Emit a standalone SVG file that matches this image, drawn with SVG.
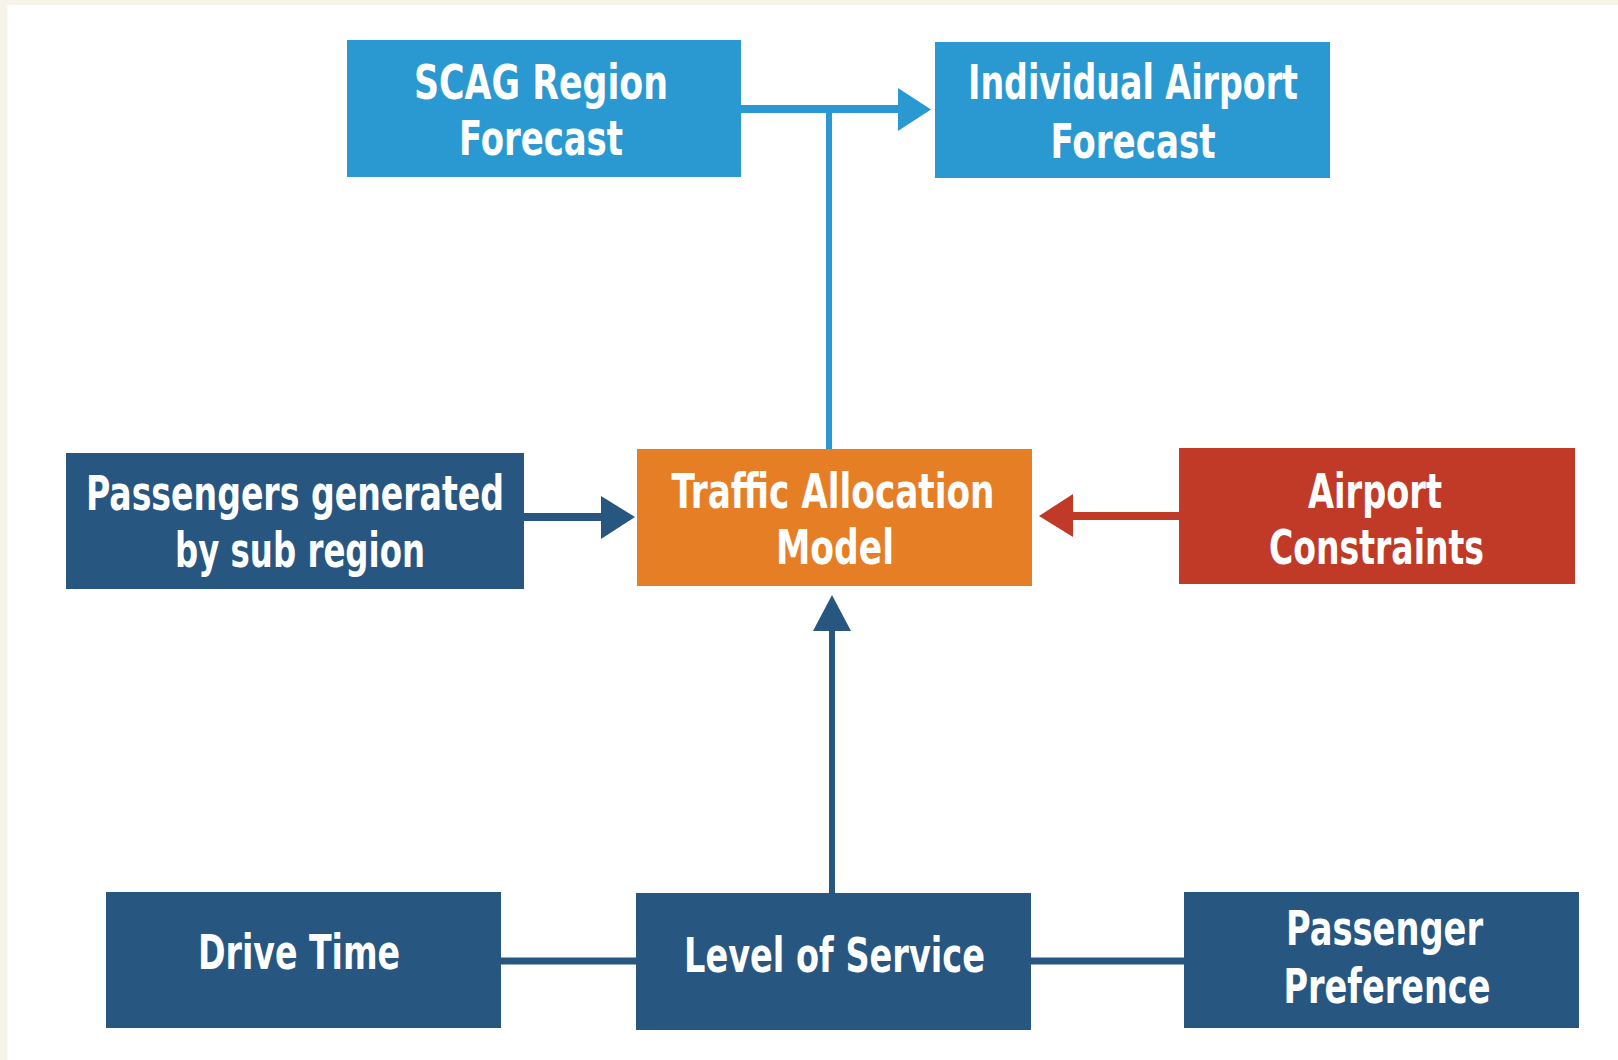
<svg xmlns="http://www.w3.org/2000/svg" width="1618" height="1060" viewBox="0 0 1618 1060">
<style>
.t{font-family:"Liberation Sans Narrow","DejaVu Sans Condensed","Liberation Sans",sans-serif;font-weight:bold;font-size:48px;fill:#ffffff;text-anchor:middle}
.lb{fill:#2B99D1}
.nv{fill:#275681}
.or{fill:#E67E25}
.rd{fill:#C13A27}
.slb{stroke:#2B99D1;fill:none}
.snv{stroke:#275681;fill:none}
.srd{stroke:#C13A27;fill:none}
</style>
<rect x="0" y="0" width="1618" height="1060" fill="#F7F3E9"/>
<rect x="7.5" y="5" width="1611" height="1055" fill="#ffffff"/>
<g id="connectors">
<path class="slb" stroke-width="8" d="M741 109H899"/>
<path class="slb" stroke-width="6" d="M829 109V449"/>
<polygon class="lb" points="898,88 931,109.5 898,131"/>
<path class="snv" stroke-width="8" d="M524 517H602"/>
<polygon class="nv" points="601,496 635,517 601,539"/>
<path class="srd" stroke-width="8" d="M1072 516H1179"/>
<polygon class="rd" points="1073,494 1039,516 1073,537"/>
<path class="snv" stroke-width="6" d="M832 894V630"/>
<polygon class="nv" points="813,631 832,595 851,631"/>
<path class="snv" stroke-width="7" d="M500 961H636M1031 961H1184"/>
</g>
<g id="scag">
<rect class="lb" x="347" y="40" width="394" height="137"/>
<text class="t" x="541" y="99" textLength="254" lengthAdjust="spacingAndGlyphs">SCAG Region</text>
<text class="t" x="541" y="155" textLength="164" lengthAdjust="spacingAndGlyphs">Forecast</text>
</g>
<g id="individual">
<rect class="lb" x="935" y="42" width="395" height="136"/>
<text class="t" x="1133" y="99" textLength="330" lengthAdjust="spacingAndGlyphs">Individual Airport</text>
<text class="t" x="1133" y="158" textLength="165" lengthAdjust="spacingAndGlyphs">Forecast</text>
</g>
<g id="passengers">
<rect class="nv" x="66" y="453" width="458" height="136"/>
<text class="t" x="295" y="510" textLength="418" lengthAdjust="spacingAndGlyphs">Passengers generated</text>
<text class="t" x="300" y="567" textLength="250" lengthAdjust="spacingAndGlyphs">by sub region</text>
</g>
<g id="traffic">
<rect class="or" x="637" y="449" width="395" height="137"/>
<text class="t" x="833" y="508" textLength="323" lengthAdjust="spacingAndGlyphs">Traffic Allocation</text>
<text class="t" x="835" y="564" textLength="118" lengthAdjust="spacingAndGlyphs">Model</text>
</g>
<g id="constraints">
<rect class="rd" x="1179" y="448" width="396" height="136"/>
<text class="t" x="1375" y="508" textLength="134" lengthAdjust="spacingAndGlyphs">Airport</text>
<text class="t" x="1376.5" y="564" textLength="215" lengthAdjust="spacingAndGlyphs">Constraints</text>
</g>
<g id="drive">
<rect class="nv" x="106" y="892" width="395" height="136"/>
<text class="t" x="299" y="969" textLength="202" lengthAdjust="spacingAndGlyphs">Drive Time</text>
</g>
<g id="service">
<rect class="nv" x="636" y="893" width="395" height="137"/>
<text class="t" x="834.5" y="972" textLength="301" lengthAdjust="spacingAndGlyphs">Level of Service</text>
</g>
<g id="preference">
<rect class="nv" x="1184" y="892" width="395" height="136"/>
<text class="t" x="1384.5" y="945" textLength="197" lengthAdjust="spacingAndGlyphs">Passenger</text>
<text class="t" x="1387" y="1003" textLength="207" lengthAdjust="spacingAndGlyphs">Preference</text>
</g>
</svg>
